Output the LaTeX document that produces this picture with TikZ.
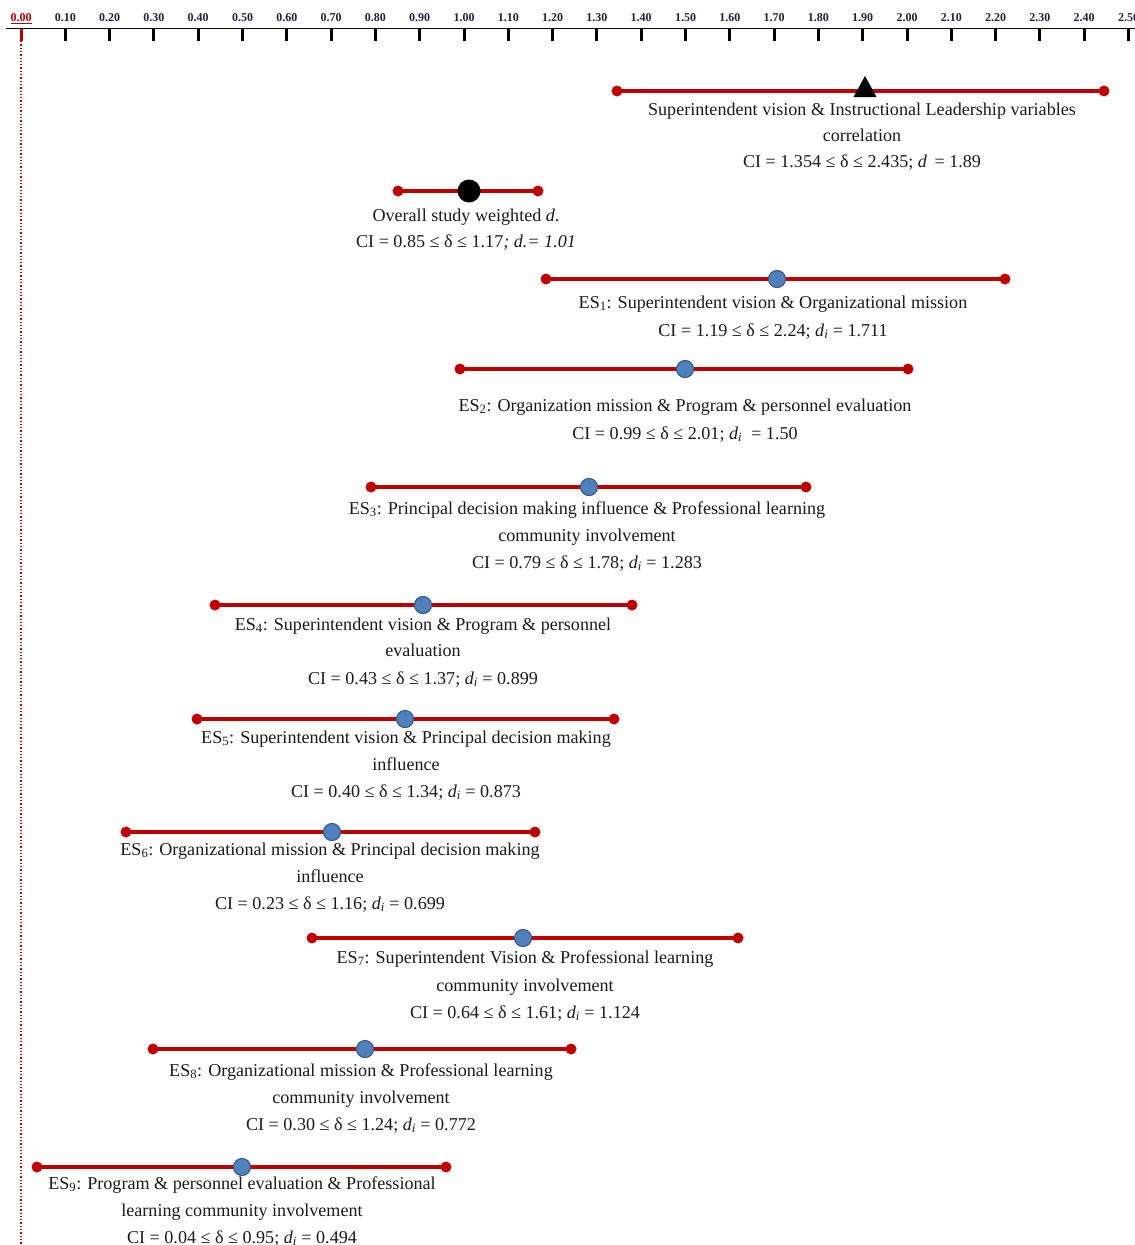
\documentclass[tikz,border=0pt]{standalone}
\usepackage{fontspec}
\setmainfont{Liberation Serif}
\usetikzlibrary{backgrounds}
\definecolor{barred}{HTML}{C00000}
\definecolor{dotblue}{HTML}{4F81BD}
\definecolor{dotedge}{HTML}{385D8A}
\definecolor{txtc}{HTML}{1A1A1A}
\definecolor{tickc}{HTML}{1F2040}
\tikzset{
  txt/.style={anchor=base, inner sep=0pt, text=txtc, font=\fontsize{18.1}{22}\selectfont},
  ticklab/.style={anchor=base, inner sep=0pt, text=tickc, font=\fontsize{12}{14}\selectfont\bfseries},
  enddot/.style={circle, fill=barred, draw=none, minimum size=11pt, inner sep=0pt},
  meandot/.style={circle, fill=dotblue, draw=dotedge, line width=1.2pt, minimum size=17pt, inner sep=0pt},
  barline/.style={draw=barred, line width=4.2pt},
  tickmark/.style={draw=black, line width=3pt},
}
\newcommand\fbar[4]{%
  \node[enddot] (#1l) at (#3,#2) {};
  \node[enddot] (#1r) at (#4,#2) {};
  \begin{scope}[on background layer]\draw[barline] (#1l.center) -- (#1r.center);\end{scope}}
\newcommand\tline[4]{\node[txt] (#1) at (#2,#3) {#4};}
\newcommand\di{\textit{d}\textsubscript{\textit{i}}}
\begin{document}
\begin{tikzpicture}[x=1pt,y=-1pt]
\useasboundingbox (0,0) rectangle (1135,1245);
% axis
\coordinate (axL) at (6,28);
\coordinate (axR) at (1140,28);
\draw[black, line width=1pt] (axL) -- (axR);
\foreach \k/\lab in {1/0.10,2/0.20,3/0.30,4/0.40,5/0.50,6/0.60,7/0.70,8/0.80,9/0.90,10/1.00,11/1.10,12/1.20,13/1.30,14/1.40,15/1.50,16/1.60,17/1.70,18/1.80,19/1.90,20/2.00,21/2.10,22/2.20,23/2.30,24/2.40,25/2.50}{
  \coordinate (t\k a) at ({21+44.3*\k},29);
  \coordinate (t\k b) at ({21+44.3*\k},41);
  \draw[tickmark] (t\k a) -- (t\k b);
  \node[ticklab] (tl\k) at ({21+44.3*\k},21.5) {\lab};
}
\coordinate (t0a) at (21,29);
\coordinate (t0b) at (21,41);
\coordinate (z0) at (21,41);
\coordinate (z1) at (21,1250);
\draw[barred, line width=3pt] (t0a) -- (t0b);
\draw[barred, line width=1.3pt, dotted] (z0) -- (z1);
\node[ticklab, text=barred] (tl0) at (21,21.5) {\underline{0.00}};

% Superintendent vision & Instructional Leadership
\fbar{s0}{91}{617}{1104}
\node[inner sep=0pt, minimum size=0pt] (tri) at (865,87) {};
\fill[black] (865,76) -- (876.5,97) -- (853.5,97) -- cycle;
\tline{s0a}{862}{115}{Superintendent vision \& Instructional Leadership variables}
\tline{s0b}{862}{141}{correlation}
\tline{s0c}{862}{167}{CI = 1.354 ≤ δ ≤ 2.435; \textit{d}\, = 1.89}

% Overall
\fbar{ov}{191}{398}{538}
\node[circle, fill=black, minimum size=23pt, inner sep=0pt] (ovd) at (469,191) {};
\tline{ova}{466}{221}{Overall study weighted \textit{d}.}
\tline{ovb}{466}{247}{CI = 0.85 ≤ δ ≤ 1.17\textit{; d.= 1.01}}

% ES1
\fbar{e1}{279}{546}{1005}
\node[meandot] (e1d) at (777,279) {};
\tline{e1a}{773}{308}{ES\textsubscript{1}: Superintendent vision \& Organizational mission}
\tline{e1b}{773}{336}{CI = 1.19 ≤ δ ≤ 2.24; \di\ = 1.711}

% ES2
\fbar{e2}{369}{460}{908}
\node[meandot] (e2d) at (685,369) {};
\tline{e2a}{685}{411}{ES\textsubscript{2}: Organization mission \& Program \& personnel evaluation}
\tline{e2b}{685}{439}{CI = 0.99 ≤ δ ≤ 2.01; \di\ \ = 1.50}

% ES3
\fbar{e3}{487}{371}{806}
\node[meandot] (e3d) at (589,487) {};
\tline{e3a}{587}{514}{ES\textsubscript{3}: Principal decision making influence \& Professional learning}
\tline{e3b}{587}{541}{community involvement}
\tline{e3c}{587}{568}{CI = 0.79 ≤ δ ≤ 1.78; \di\ = 1.283}

% ES4
\fbar{e4}{605}{215}{632}
\node[meandot] (e4d) at (423,605) {};
\tline{e4a}{423}{630}{ES\textsubscript{4}: Superintendent vision \& Program \& personnel}
\tline{e4b}{423}{656}{evaluation}
\tline{e4c}{423}{684}{CI = 0.43 ≤ δ ≤ 1.37; \di\ = 0.899}

% ES5
\fbar{e5}{719}{197}{614}
\node[meandot] (e5d) at (405,719) {};
\tline{e5a}{406}{743}{ES\textsubscript{5}: Superintendent vision \& Principal decision making}
\tline{e5b}{406}{770}{influence}
\tline{e5c}{406}{797}{CI = 0.40 ≤ δ ≤ 1.34; \di\ = 0.873}

% ES6
\fbar{e6}{832}{126}{535}
\node[meandot] (e6d) at (332,832) {};
\tline{e6a}{330}{855}{ES\textsubscript{6}: Organizational mission \& Principal decision making}
\tline{e6b}{330}{882}{influence}
\tline{e6c}{330}{909}{CI = 0.23 ≤ δ ≤ 1.16; \di\ = 0.699}

% ES7
\fbar{e7}{938}{312}{738}
\node[meandot] (e7d) at (523,938) {};
\tline{e7a}{525}{963}{ES\textsubscript{7}: Superintendent Vision \& Professional learning}
\tline{e7b}{525}{991}{community involvement}
\tline{e7c}{525}{1018}{CI = 0.64 ≤ δ ≤ 1.61; \di\ = 1.124}

% ES8
\fbar{e8}{1049}{153}{571}
\node[meandot] (e8d) at (365,1049) {};
\tline{e8a}{361}{1076}{ES\textsubscript{8}: Organizational mission \& Professional learning}
\tline{e8b}{361}{1103}{community involvement}
\tline{e8c}{361}{1130}{CI = 0.30 ≤ δ ≤ 1.24; \di\ = 0.772}

% ES9
\fbar{e9}{1167}{37}{446}
\node[meandot] (e9d) at (242,1167) {};
\tline{e9a}{242}{1189}{ES\textsubscript{9}: Program \& personnel evaluation \& Professional}
\tline{e9b}{242}{1216}{learning community involvement}
\tline{e9c}{242}{1243}{CI = 0.04 ≤ δ ≤ 0.95; \di\ = 0.494}
\end{tikzpicture}
\end{document}
